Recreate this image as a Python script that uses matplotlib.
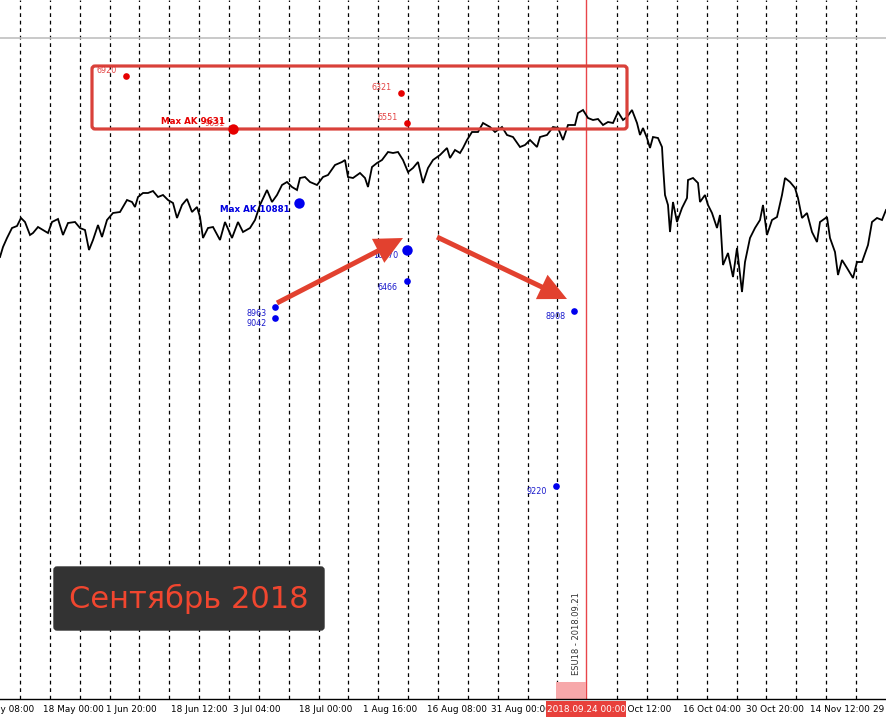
import matplotlib
matplotlib.use("Agg")
import matplotlib.pyplot as plt
from matplotlib.patches import FancyBboxPatch, Rectangle

# ---------------- data (chart units: bar position, price level in chart px, top=0) -------------
price_x = [0, 3, 7, 12, 17, 21, 25, 30, 33, 38, 43, 48, 52, 58, 63, 68, 75, 80, 85, 89,
           93, 98, 102, 107, 113, 120, 127, 132, 135, 138, 143, 148, 153, 158, 163, 168,
           173, 177, 182, 187, 192, 197, 200, 203, 208, 213, 220, 225, 232, 238, 243, 250,
           255, 260, 267, 272, 277, 282, 287, 292, 297, 300, 305, 310, 317, 323, 328, 335,
           342, 345, 348, 353, 360, 365, 368, 372, 377, 382, 388, 393, 398, 403, 408, 413,
           418, 423, 428, 433, 440, 447, 450, 455, 460, 463, 467, 472, 478, 483, 490, 495,
           502, 507, 513, 520, 525, 530, 537, 540, 547, 553, 558, 563, 568, 575, 578, 583,
           588, 593, 598, 603, 608, 613, 618, 623, 627, 632, 637, 640, 643, 647, 650, 653,
           658, 662, 663, 665, 668, 670, 673, 677, 682, 687, 688, 693, 698, 700, 705, 708,
           712, 717, 720, 723, 728, 733, 737, 742, 745, 750, 755, 760, 763, 767, 772, 777,
           782, 785, 790, 795, 798, 802, 807, 812, 817, 820, 827, 830, 835, 838, 842, 847,
           853, 857, 862, 868, 872, 877, 882, 886]
price_y = [257, 247, 238, 228, 226, 218, 222, 235, 233, 227, 230, 233, 222, 219, 235, 223,
           222, 228, 230, 250, 240, 225, 237, 220, 213, 212, 200, 202, 207, 197, 193, 193,
           191, 197, 195, 200, 203, 218, 205, 199, 212, 207, 217, 238, 228, 227, 240, 222,
           238, 222, 232, 228, 220, 205, 190, 202, 195, 185, 182, 187, 190, 178, 177, 182,
           185, 177, 175, 165, 162, 160, 177, 178, 173, 178, 187, 167, 163, 160, 152, 153,
           152, 160, 172, 168, 162, 183, 168, 160, 155, 148, 158, 150, 153, 148, 140, 132,
           132, 123, 127, 132, 127, 135, 137, 147, 145, 140, 147, 137, 135, 127, 128, 140,
           125, 125, 113, 110, 118, 120, 119, 125, 122, 123, 112, 120, 117, 110, 123, 135,
           128, 138, 148, 137, 138, 147, 165, 195, 205, 232, 202, 222, 208, 198, 180, 178,
           183, 202, 195, 205, 213, 228, 215, 265, 253, 277, 248, 292, 262, 238, 228, 220,
           205, 235, 220, 217, 195, 178, 182, 188, 198, 218, 213, 232, 242, 222, 217, 238,
           252, 275, 260, 268, 278, 262, 262, 245, 222, 218, 220, 210]

date_labels = ["3 May 08:00", "18 May 00:00", "1 Jun 20:00", "18 Jun 12:00", "3 Jul 04:00",
               "18 Jul 00:00", "1 Aug 16:00", "16 Aug 08:00", "31 Aug 00:00", "14 Sep 16:00",
               "1 Oct 12:00", "16 Oct 04:00", "30 Oct 20:00", "14 Nov 12:00", "29 Nov 04:00"]
date_label_x = [-21, 43, 106, 171, 233, 299, 363, 427, 491, 555, 619, 683, 746, 810, 873]

red_x = [126, 233.5, 401, 407]
red_y = [75.5, 128.5, 92.7, 123]
red_labels = ["6920", "9631", "6321", "6551"]
red_big = [False, True, False, False]

blue_x = [299, 407.5, 407, 275.5, 275.5, 574.5, 556]
blue_y = [202.5, 250, 281, 307, 318, 310.5, 486]
blue_labels = ["10881", "10070", "6466", "8963", "9042", "8908", "9220"]
blue_big = [True, True, False, False, False, False, False]

max_red_text = "Max AK 9631"
max_blue_text = "Max AK 10881"
expiry_text = "ESU18 - 2018.09.21"
cursor_text = "2018.09.24 00:00"
title_text = "Сентябрь 2018"

# ---------------- figure ----------------
W, H = 886, 720
fig = plt.figure(figsize=(W / 100, H / 100), dpi=100)
fig.patch.set_facecolor("white")
axis_px = 699
ax = fig.add_axes([0, (H - axis_px) / H, 1, axis_px / H])
ax.set_xlim(0, W)
ax.set_ylim(axis_px, 0)
for s in ["top", "left", "right"]:
    ax.spines[s].set_visible(False)
ax.spines["bottom"].set_color("black")
ax.spines["bottom"].set_linewidth(1.0)
ax.set_xticks([])
ax.set_yticks([])

red_line_x = 586
# dashed vertical grid
grid_x = [20 + 29.86 * k for k in range(29)]
for gx in grid_x:
    if abs(gx - red_line_x) < 5:
        continue
    ax.axvline(gx, color="black", lw=0.9, ls=(0, (3, 3)), zorder=1)

# gray horizontal line
ax.axhline(37.5, color="#c0c0c0", lw=1.2, zorder=1)

# red vertical line (cursor / expiry)
ax.axvline(red_line_x, color="#e8454a", lw=1.0, zorder=2)

# price line
ax.plot(price_x, price_y, color="black", lw=1.3, zorder=3, solid_joinstyle="miter")

# red rectangle
ax.add_patch(FancyBboxPatch((92, 66), 627 - 92, 129 - 66,
                            boxstyle="round,pad=0,rounding_size=3",
                            fill=False, ec="#d9413a", lw=2.3, zorder=4))

# arrows
arrow_col = "#e2412f"
ax.arrow(277, 303, 403 - 277, 238 - 303, width=5, head_width=27, head_length=28,
         length_includes_head=True, color=arrow_col, zorder=5, lw=0)
ax.arrow(437, 237, 567 - 437, 299 - 237, width=5, head_width=27, head_length=28,
         length_includes_head=True, color=arrow_col, zorder=5, lw=0)

# red points
for x, y, lab, big in zip(red_x, red_y, red_labels, red_big):
    ax.plot(x, y, "o", color="#e60000", ms=7.5 if big else 4.8, mec="none", zorder=6)
    ax.text(x - 9, y - 5, lab, color="#e03030", fontsize=5.8, ha="right", va="center",
            zorder=6, alpha=0.9)
ax.text(225, 122, max_red_text, color="#e60000", fontsize=6.3, fontweight="bold",
        ha="right", va="center", zorder=7)

# blue points
for x, y, lab, big in zip(blue_x, blue_y, blue_labels, blue_big):
    ax.plot(x, y, "o", color="#0000ee", ms=7.5 if big else 4.8, mec="none", zorder=6)
    if big and lab == "10881":
        continue
    ax.text(x - 9, y + 6, lab, color="#1a1acc", fontsize=5.8, ha="right", va="center",
            zorder=4)
ax.text(290, 209, max_blue_text, color="#0000e0", fontsize=6.3, fontweight="bold",
        ha="right", va="center", zorder=7)

# expiry marker
ax.add_patch(Rectangle((556, 682), red_line_x - 556, axis_px - 682, color="#f7a8aa",
                       lw=0, zorder=2))
ax.text(577, 634, expiry_text, rotation=90, color="#333333", fontsize=6.0,
        ha="center", va="center", zorder=6)

# title box
ax.add_patch(FancyBboxPatch((54, 567), 324 - 54, 630 - 567,
                            boxstyle="round,pad=0,rounding_size=3",
                            fc="#333333", ec="#333333", zorder=7))
ax.text(189, 599, title_text, color="#f0462f", fontsize=22, ha="center", va="center",
        zorder=8)

# x-axis date labels
xt = ax.get_xaxis_transform()
ylab = -(710 - axis_px) / axis_px
for x, lab in zip(date_label_x, date_labels):
    ax.text(x, ylab, lab, transform=xt, fontsize=6.4, color="black", ha="left",
            va="center", clip_on=False, zorder=3)
# highlighted cursor time
ax.add_patch(Rectangle((546, -(717 - axis_px) / axis_px), 80, 16 / axis_px,
                       transform=xt, color="#e8403b", lw=0, clip_on=False, zorder=9))
ax.text(586, ylab, cursor_text, transform=xt, fontsize=6.4, color="white",
        ha="center", va="center", clip_on=False, zorder=10)

fig.savefig("out.png", dpi=100, facecolor="white")
